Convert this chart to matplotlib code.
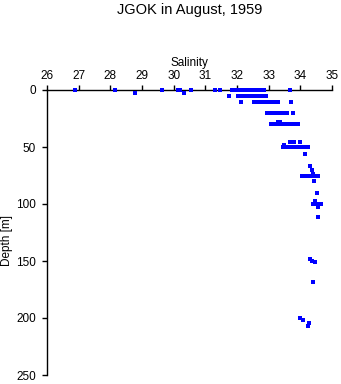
import matplotlib
matplotlib.use("Agg")
import matplotlib.pyplot as plt

plt.rcParams['font.family'] = ['Liberation Sans', 'DejaVu Sans']

# Salinity samples grouped by depth [m]
d0 = [26.89, 28.16, 29.63, 30.15, 30.20, 30.56, 31.30, 31.47, 31.83, 31.88, 31.93,
      31.98, 32.01, 32.12, 32.17, 32.25, 32.31, 32.41, 32.46, 32.51, 32.56, 32.61,
      32.66, 32.71, 32.76, 32.81, 32.86, 33.67]
d3 = [28.79, 30.33]
d5 = [31.74, 32.04, 32.09, 32.14, 32.19, 32.22, 32.28, 32.34, 32.39, 32.47, 32.52,
      32.57, 32.62, 32.67, 32.72, 32.77, 32.82, 32.87, 32.92]
d10 = [32.13, 32.54, 32.59, 32.64, 32.69, 32.74, 32.79, 32.84, 32.89, 32.94, 32.99,
       33.04, 33.09, 33.14, 33.19, 33.29, 33.70]
d20 = [32.94, 32.99, 33.04, 33.09, 33.14, 33.19, 33.24, 33.29, 33.34, 33.39, 33.44,
       33.49, 33.52, 33.59, 33.78]
d28 = [33.31, 33.35]
d30 = [33.07, 33.12, 33.17, 33.22, 33.27, 33.32, 33.37, 33.42, 33.47, 33.52, 33.57,
       33.62, 33.67, 33.72, 33.77, 33.82, 33.86, 33.94]
d45 = [33.68, 33.81, 34.00]
d48 = [33.50]
d50 = [33.46, 33.51, 33.56, 33.61, 33.66, 33.71, 33.76, 33.81, 33.86, 33.91, 33.96,
       34.01, 34.06, 34.11, 34.16, 34.21, 34.24]
deep_sal = [34.15, 34.32, 34.36, 34.41, 34.06, 34.11, 34.16, 34.21, 34.26, 34.31,
            34.36, 34.41, 34.46, 34.51, 34.56, 34.44, 34.54, 34.45, 34.41, 34.47,
            34.53, 34.59, 34.64, 34.57, 34.55, 34.32, 34.38, 34.45, 34.41, 34.00,
            34.09, 34.28, 34.23]
deep_dep = [56, 67, 70.5, 73.5, 75, 75, 75, 75, 75, 75,
            75, 75, 75, 75, 75, 80, 90, 97, 100, 100,
            100, 100, 100, 103, 111, 148, 150, 151, 168, 200,
            202, 204, 207]

groups = [(0, d0), (3, d3), (5.5, d5), (10.8, d10), (20.5, d20), (28.5, d28),
          (30, d30), (45.3, d45), (48.5, d48), (50, d50)]
sal = []
dep = []
for d, vals in groups:
    sal += vals
    dep += [d] * len(vals)
sal += deep_sal
dep += deep_dep

xticks = list(range(26, 36))
yticks = [0, 50, 100, 150, 200, 250]

fig = plt.figure(figsize=(3.41, 3.84), dpi=100)
ax = fig.add_axes([47/341, 1-375/384, (332-47)/341, (375-90)/384])
ax.plot(sal, dep, linestyle='none', marker='s', ms=2.3, mew=0, color='#0000ff',
        clip_on=False, zorder=5)

ax.set_xlim(26, 35)
ax.set_ylim(250, 0)
ax.set_xticks(xticks)
ax.set_yticks(yticks)
ax.xaxis.tick_top()
ax.xaxis.set_label_position('top')
for s in ['right', 'bottom']:
    ax.spines[s].set_visible(False)
for s in ['left', 'top']:
    ax.spines[s].set_linewidth(1.0)
ax.tick_params(axis='both', direction='out', length=3.6, width=1.0, labelsize=8.5)
ax.tick_params(axis='x', pad=2.5)
ax.tick_params(axis='y', pad=4.5)
ax.set_xlabel('Salinity', fontsize=8.5, labelpad=2.5)
fig.text(7/341, 1-240/384, 'Depth [m]', rotation=90, ha='center', va='center', fontsize=8.5)
fig.text((47+332)/2/341, 1-10/384, 'JGOK in August, 1959', ha='center', va='center', fontsize=10.5)

fig.savefig('out.png', dpi=100)
